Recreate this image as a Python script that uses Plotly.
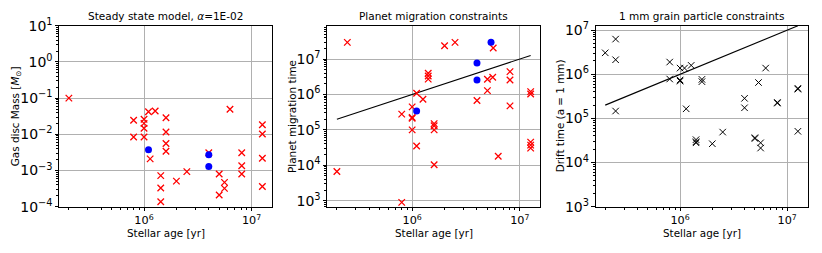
import plotly.graph_objects as go

# ---------------- data ----------------
# Panel 1: steady state model, gas disc mass
ss_age = [2e5, 8e5, 8e5, 1e6, 1e6, 1e6, 1e6, 1.1e6, 1.27e6, 1.6e6, 1.6e6, 1.6e6, 1.6e6,
          1.14e6, 1.43e6, 1.43e6, 1.43e6, 2e6, 2.5e6, 4e6, 6.3e6, 5e6, 5.6e6, 5.6e6, 5e6,
          8.1e6, 8.1e6, 8.1e6, 1.26e7, 1.26e7, 1.26e7, 1.26e7]
ss_mass = [0.1, 0.0244, 0.0084, 0.026, 0.020, 0.0147, 0.0084, 0.042, 0.044, 0.0288, 0.0116,
           0.0056, 0.0034, 0.0021, 7.2e-4, 3.3e-4, 1.37e-4, 5.1e-4, 9.3e-4, 3.1e-3, 0.049,
           8e-4, 4.7e-4, 3.2e-4, 2.1e-4, 3.1e-3, 1.36e-3, 8e-4, 0.0184, 0.0102, 0.00217, 3.6e-4]
ss_ok_age = [1.1e6, 4e6, 4e6]
ss_ok_mass = [3.76e-3, 2.73e-3, 1.3e-3]

# Panel 2: planet migration time
pm_age = [2.5e5, 2e5, 8e5, 8e5, 1e6, 1e6, 1e6, 1e6, 1.1e6, 1.1e6, 1.26e6, 1.41e6, 1.41e6,
          1.41e6, 1.6e6, 1.6e6, 1.6e6, 1.6e6, 2e6, 2.5e6, 4e6, 5.66e6, 5e6, 5.6e6, 5e6,
          6.3e6, 8.1e6, 8.1e6, 8.1e6, 1.26e7, 1.26e7, 1.26e7, 1.26e7, 1.26e7]
pm_time = [2.95e7, 6.7e3, 895, 2.77e5, 4.45e5, 2.13e5, 2.25e5, 1e5, 1.08e6, 3.5e4, 7.3e5,
           3.95e6, 3.3e6, 2.7e6, 1.5e5, 1.3e5, 1e5, 1.03e4, 2.37e7, 2.95e7, 6.7e5, 2.04e7,
           2.68e6, 3.05e6, 1.28e6, 1.8e4, 4.4e6, 2.56e6, 4.75e5, 1.2e6, 1.03e6, 4.5e4,
           3.7e4, 3.05e4]
pm_ok_age = [1.1e6, 4e6, 4e6, 5.4e6]
pm_ok_time = [3.43e5, 7.7e6, 2.56e6, 2.95e7]

# Panel 3: 1 mm grain drift time
dr_age = [2e5, 2.5e5, 2.5e5, 2.5e5, 8e5, 8e5, 1e6, 1e6, 1e6, 1.1e6, 1.14e6, 1.27e6, 1.41e6,
          1.41e6, 1.41e6, 1.6e6, 1.6e6, 2e6, 2.5e6, 4e6, 4e6, 5e6, 5e6, 5.65e6, 5.65e6,
          5.4e6, 6.3e6, 8.1e6, 8.1e6, 1.26e7, 1.26e7, 1.26e7]
dr_time = [3.06e6, 6.26e6, 2.13e6, 1.47e5, 1.89e6, 7.8e5, 1.38e6, 7.4e5, 7.0e5, 1.38e6,
           1.65e5, 1.59e6, 3.3e4, 2.96e4, 2.8e4, 7.66e5, 6.8e5, 2.67e4, 4.9e4, 2.85e5,
           1.74e5, 3.65e4, 3.5e4, 2.8e4, 2.13e4, 6.5e5, 1.38e6, 2.22e5, 2.3e5, 4.8e5,
           4.6e5, 5.1e4]

# one-to-one line (time = age)
line_age = [2e5, 1.26e7]
line_time = [2e5, 1.26e7]

titles = ["Steady state model, <i>α</i>=1E-02", "Planet migration constraints",
          "1 mm grain particle constraints"]
ylabels = ["Gas disc Mass [<i>M</i><sub>⊙</sub>]", "Planet migration time",
           "Drift time (a = 1 mm)"]
xlabel = "Stellar age [yr]"

# ---------------- figure ----------------
W, H = 822, 253
FONT = "DejaVu Sans"
RED, BLUE = "#ff0000", "#0000ff"

fig = go.Figure()

def xmark(x, y, color, ax, w=1.3, size=6.5):
    return go.Scatter(x=x, y=y, mode="markers", xaxis=f"x{ax}", yaxis=f"y{ax}",
                      marker=dict(symbol="x-thin", size=size, color=color,
                                  line=dict(color=color, width=w)),
                      showlegend=False)

def dot(x, y, ax):
    return go.Scatter(x=x, y=y, mode="markers", xaxis=f"x{ax}", yaxis=f"y{ax}",
                      marker=dict(symbol="circle", size=7, color=BLUE),
                      showlegend=False)

fig.add_trace(xmark(ss_age, ss_mass, RED, ""))
fig.add_trace(dot(ss_ok_age, ss_ok_mass, ""))

fig.add_trace(go.Scatter(x=line_age, y=line_time, mode="lines", xaxis="x2", yaxis="y2",
                         line=dict(color="black", width=1.1), showlegend=False))
fig.add_trace(xmark(pm_age, pm_time, RED, "2"))
fig.add_trace(dot(pm_ok_age, pm_ok_time, "2"))

fig.add_trace(go.Scatter(x=line_age, y=line_time, mode="lines", xaxis="x3", yaxis="y3",
                         line=dict(color="black", width=1.1), showlegend=False))
fig.add_trace(xmark(dr_age, dr_time, "black", "3", w=1.0))

xdom = [[59.3 / W, 272.0 / W], [327.3 / W, 540.3 / W], [595.7 / W, 807.5 / W]]
ydom = [1 - 206.7 / H, 1 - 25.7 / H]
yranges = [[-4, 1], [2.83, 7.94], [3, 7.1]]
xrange_ = [5.212, 7.19]
ylabel_x = [16.0, 291.7, 560.0]

common = dict(type="log", showline=True, linecolor="black", linewidth=1, mirror=True,
              ticks="outside", ticklen=3.5, tickwidth=0.8, tickcolor="black",
              showgrid=True, gridcolor="#b0b0b0", gridwidth=0.8, zeroline=False,
              tickmode="linear", tick0=0, dtick=1, exponentformat="power",
              labelalias={"10": "10<sup>1</sup>", "1": "10<sup>0</sup>"},
              automargin=False,
              minor=dict(ticks="outside", ticklen=2, tickwidth=0.6, tickcolor="black",
                         showgrid=False, dtick="D1"))

layout = dict(width=W, height=H, margin=dict(l=0, r=0, t=0, b=0, autoexpand=False),
              paper_bgcolor="white", plot_bgcolor="white",
              font=dict(family=FONT, color="black"))
annotations = []
for i in range(3):
    sfx = "" if i == 0 else str(i + 1)
    layout["xaxis" + sfx] = dict(
        common, domain=xdom[i], range=xrange_, anchor="y" + sfx,
        tickfont=dict(size=9, family=FONT))
    layout["yaxis" + sfx] = dict(
        common, domain=ydom, range=yranges[i], anchor="x" + sfx,
        tickfont=dict(size=11.2, family=FONT))
    xc = (xdom[i][0] + xdom[i][1]) / 2
    annotations.append(dict(text=titles[i], xref="paper", yref="paper",
                            x=xc, y=1 - 16.0 / H,
                            xanchor="center", yanchor="middle", showarrow=False,
                            font=dict(size=10.5, family=FONT)))
    annotations.append(dict(text=xlabel, xref="paper", yref="paper",
                            x=xc, y=1 - 233.0 / H, borderpad=0,
                            xanchor="center", yanchor="middle", showarrow=False,
                            font=dict(size=10.4, family=FONT)))
    annotations.append(dict(text=ylabels[i], xref="paper", yref="paper",
                            x=ylabel_x[i] / W, y=(ydom[0] + ydom[1]) / 2,
                            xanchor="center", yanchor="middle", textangle=-90,
                            showarrow=False, font=dict(size=10.4, family=FONT)))
layout["annotations"] = annotations
fig.update_layout(**layout)

fig.write_html("out.html", config={"displayModeBar": False},
               post_script="document.body.style.margin='0px';")
